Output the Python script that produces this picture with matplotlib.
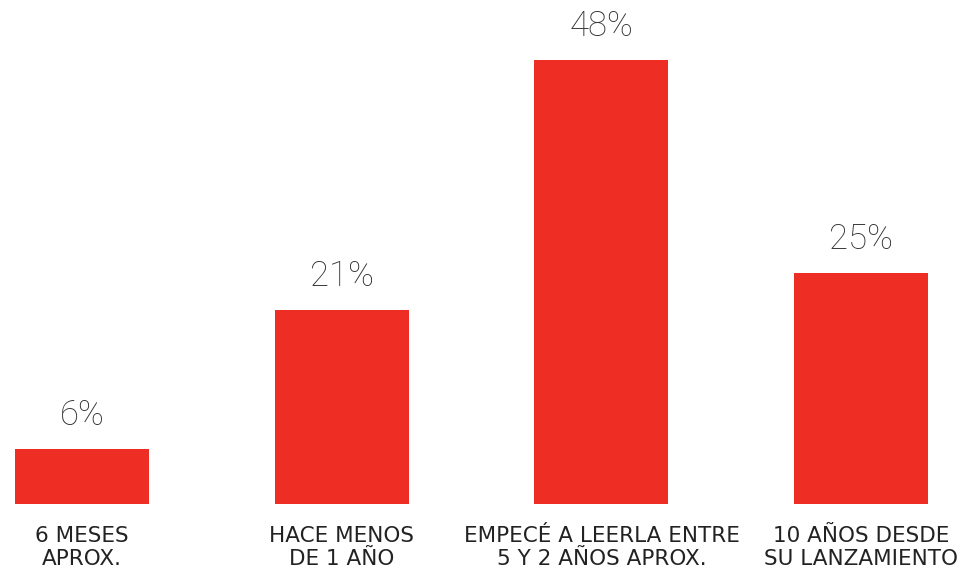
import matplotlib.pyplot as plt

categories = [
    "6 MESES\nAPROX.",
    "HACE MENOS\nDE 1 AÑO",
    "EMPECÉ A LEERLA ENTRE\n5 Y 2 AÑOS APROX.",
    "10 AÑOS DESDE\nSU LANZAMIENTO",
]
values = [6, 21, 48, 25]
value_labels = ["6%", "21%", "48%", "25%"]

RED = "#EE2E24"

fig = plt.figure(figsize=(9.64, 5.74), dpi=100)
ax = fig.add_axes([0, 70 / 574, 1, 504 / 574])

x = range(len(values))
bars = ax.bar(x, values, width=0.516, color=RED)

for rect, lab in zip(bars, value_labels):
    ax.annotate(lab, (rect.get_x() + rect.get_width() / 2, rect.get_height()),
                xytext=(0, 12), textcoords="offset points",
                ha="center", va="bottom", fontsize=25, color="#333333",
                family="Roboto", fontweight="light")

for xi, cat in zip(x, categories):
    ax.annotate(cat, (xi, 0), xytext=(0, -16), textcoords="offset points",
                ha="center", va="top", fontsize=15.5, color="#222222",
                family="DejaVu Sans", linespacing=1.15, annotation_clip=False)

ax.set_xlim(-0.316, 3.396)
ax.set_ylim(0, 54.5)
ax.axis("off")

plt.savefig("out.png", dpi=100)
